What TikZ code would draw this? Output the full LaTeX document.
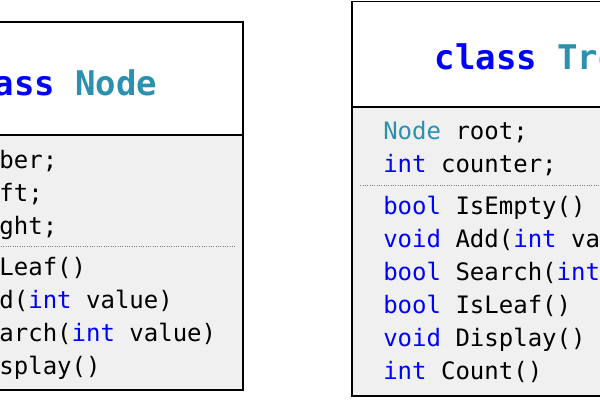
\documentclass[tikz,border=0pt]{standalone}
\usepackage{fontspec}
\setmonofont{DejaVu Sans Mono}
\usepackage{xcolor}
\usepackage{tikz}
\usetikzlibrary{positioning}
\definecolor{kwblue}{HTML}{0000FF}
\definecolor{typeteal}{HTML}{2B91AF}
\definecolor{bodyfill}{HTML}{F0F0F0}
\newcommand{\kw}[1]{\textcolor{kwblue}{#1}}
\newcommand{\ty}[1]{\textcolor{typeteal}{#1}}
\newcommand{\memfont}{\ttfamily\fontsize{18pt}{18pt}\selectfont}
\newcommand{\clsfont}{\ttfamily\bfseries\fontsize{25.5pt}{25.5pt}\selectfont}

\begin{document}
\begin{tikzpicture}[
  x=0.75pt, y=0.75pt,
  head/.style={draw, line width=1.4pt, fill=white, inner sep=0pt, outer sep=0pt, anchor=south west},
  body/.style={draw, line width=1.4pt, fill=bodyfill, inner sep=0pt, outer sep=0pt},
  cls/.style={font=\clsfont, inner sep=0pt, anchor=base},
  member/.style={font=\memfont, inner sep=0pt, anchor=base west},
  sepline/.style={densely dotted, draw=gray, line width=0.75pt},
]
  \path[use as bounding box, clip] (0,0) rectangle (600,400);

  % class Node
  \node[head, minimum width=282.2pt, minimum height=84.75pt] (nodehead) at (-133,265) {};
  \node[body, minimum width=282.2pt, minimum height=191.25pt, below=0pt of nodehead] (nodebody) {};
  \node[cls] (nodetitle) at (55,304) {\kw{class} \ty{Node}};

  \node[member] (nf1) at (-102,231.4) {\kw{int} number;};
  \node[member, below=24.6pt of nf1.base west, anchor=base west] (nf2) {\ty{Node} left;};
  \node[member, below=24.6pt of nf2.base west, anchor=base west] (nf3) {\ty{Node} right;};
  \draw[sepline] (-125,153) -- (235.3,153);
  \node[member] (nm1) at (-102,124) {\kw{bool} IsLeaf()};
  \node[member, below=24.6pt of nm1.base west, anchor=base west] (nm2) {\kw{void} Add(\kw{int} value)};
  \node[member, below=24.6pt of nm2.base west, anchor=base west] (nm3) {\kw{bool} Search(\kw{int} value)};
  \node[member, below=24.6pt of nm3.base west, anchor=base west] (nm4) {\kw{void} Display()};

  % class Tree
  \node[head, minimum width=277.3pt, minimum height=78.9pt] (treehead) at (352.3,293.3) {};
  \node[body, minimum width=277.3pt, minimum height=217pt, below=0pt of treehead] (treebody) {};
  \node[cls] (treetitle) at (537,330) {\kw{class} \ty{Tree}};

  \node[member] (tf1) at (383,260.7) {\ty{Node} root;};
  \node[member, below=24.6pt of tf1.base west, anchor=base west] (tf2) {\kw{int} counter;};
  \draw[sepline] (360.3,214) -- (714,214);
  \node[member] (tm1) at (383,185) {\kw{bool} IsEmpty()};
  \node[member, below=24.6pt of tm1.base west, anchor=base west] (tm2) {\kw{void} Add(\kw{int} value)};
  \node[member, below=24.6pt of tm2.base west, anchor=base west] (tm3) {\kw{bool} Search(\kw{int} value)};
  \node[member, below=24.6pt of tm3.base west, anchor=base west] (tm4) {\kw{bool} IsLeaf()};
  \node[member, below=24.6pt of tm4.base west, anchor=base west] (tm5) {\kw{void} Display()};
  \node[member, below=24.6pt of tm5.base west, anchor=base west] (tm6) {\kw{int} Count()};
\end{tikzpicture}
\end{document}
